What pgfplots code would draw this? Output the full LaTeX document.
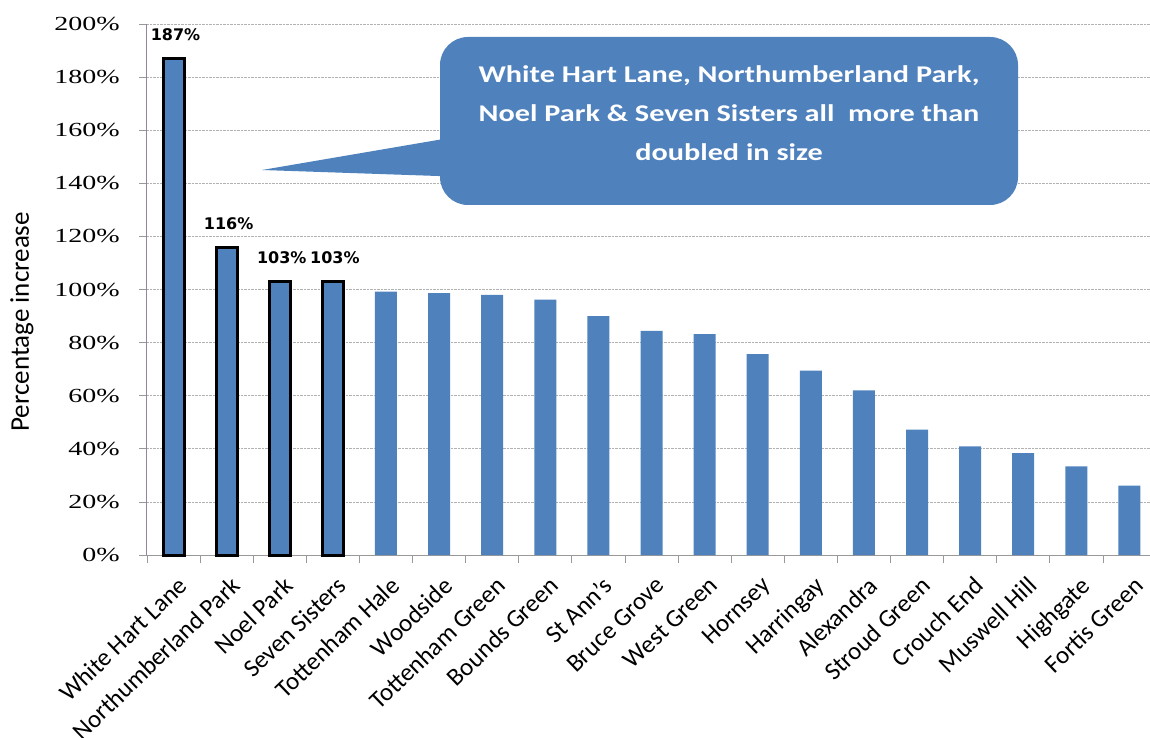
\documentclass[border=0pt]{standalone}
\usepackage{fontspec}
\usepackage{pgfplots}
\pgfplotsset{compat=1.18}
\setmainfont{Carlito}
\newfontfamily\timesf{Liberation Serif}[FakeStretch=1.4]
\newfontfamily\calloutf{Carlito}[FakeStretch=1.26]
\newfontfamily\dejavu{DejaVu Sans}
\definecolor{barblue}{HTML}{4F81BD}
\definecolor{yaxcol}{RGB}{150,130,155}
\begin{document}
\begin{tikzpicture}
\begin{axis}[
  name=ax,
  scale only axis,
  width=1009pt, height=531pt,
  xmin=-0.5, xmax=18.5, ymin=0, ymax=200,
  ybar, bar shift=0pt,
  xtick={0,...,18},
  xticklabels={White Hart Lane,Northumberland Park,Noel Park,Seven Sisters,Tottenham Hale,Woodside,Tottenham Green,Bounds Green,St Ann's,Bruce Grove,West Green,Hornsey,Harringay,Alexandra,Stroud Green,Crouch End,Muswell Hill,Highgate,Fortis Green},
  x tick label style={xshift=3pt, yshift=-20pt, rotate=44, anchor=north east, inner sep=0pt, font=\fontsize{25}{26}\selectfont},
  minor xtick={-0.5,0.5,...,18.5},
  ytick={0,20,...,200},
  minor ytick={0,20,...,200},
  yticklabels={0\%,20\%,40\%,60\%,80\%,100\%,120\%,140\%,160\%,180\%,200\%},
  y tick label style={font=\timesf\fontsize{20}{22}\selectfont, anchor=east, inner sep=0pt, xshift=-27pt},
  major tick length=0pt, minor tick length=8pt,
  tick align=outside,
  ymajorgrids, yminorgrids=false,
  major grid style={densely dotted, gray!60, line width=0.8pt},
  axis x line*=bottom, axis y line*=left,
  x axis line style={draw=gray!80, line width=1pt, -},
  y axis line style={draw=yaxcol, line width=1pt, -},
  every tick/.style={draw=gray!80, line width=0.8pt},
  ylabel={Percentage increase},
  y label style={at={(axis description cs:-0.124,0.439)}, anchor=center, font=\fontsize{27}{28}\selectfont},
  clip=false,
]
\addplot[fill=barblue, draw=black, line width=3pt, bar width=21pt,
  nodes near coords={\pgfmathprintnumber[assume math mode=true]{\pgfplotspointmeta}\%},
  every node near coord/.style={font=\dejavu\bfseries\fontsize{16}{17}\selectfont, text=black, anchor=south, inner sep=0pt, yshift=16pt, xshift=2pt}]
  coordinates {(0,187) (1,116) (2,103) (3,103)};
\addplot[fill=barblue, draw=none, bar width=22pt]
  coordinates {(4,99.2) (5,98.6) (6,98.0) (7,96.2) (8,90.0) (9,84.4) (10,83.2) (11,75.7) (12,69.4) (13,62.0) (14,47.2) (15,40.9) (16,38.4) (17,33.4) (18,26.1)};
\end{axis}
\begin{scope}[shift={(ax.south west)}]
  \fill[barblue] (115pt,385pt) -- (320pt,420pt) -- (320pt,378pt) -- cycle;
  \fill[barblue, rounded corners=28pt] (293pt,350pt) rectangle (871pt,518pt);
  \node[text=white, align=center, font=\calloutf\bfseries\fontsize{24}{39}\selectfont] at (582pt,442pt)
    {White Hart Lane, Northumberland Park,\\Noel Park \& Seven Sisters all\ \ more than\\doubled in size};
  \pgfresetboundingbox
  \path[use as bounding box] (-147pt,-183pt) rectangle (1003pt,555pt);
\end{scope}
\end{tikzpicture}
\end{document}
